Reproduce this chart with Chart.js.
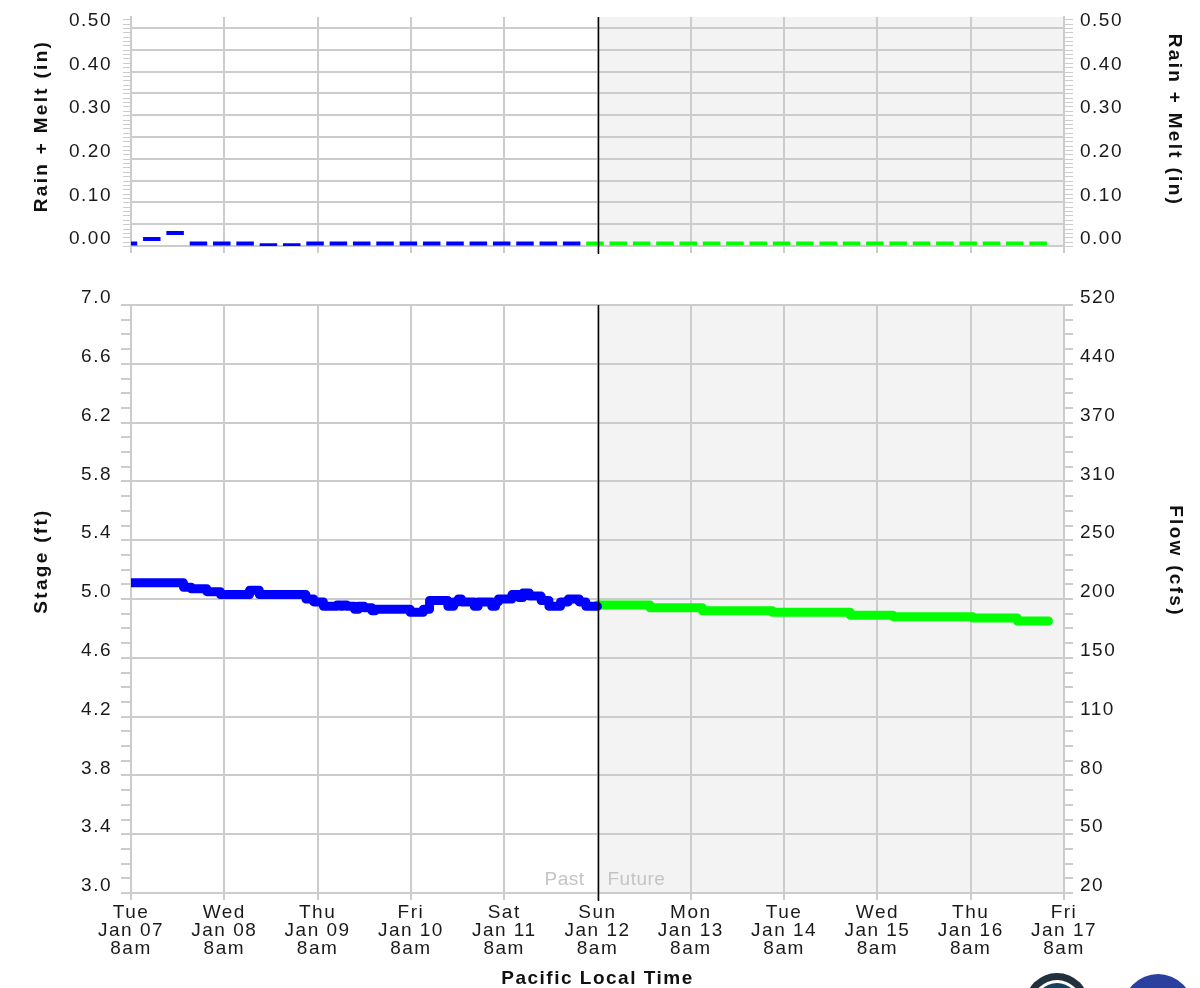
<!DOCTYPE html>
<html>
<head>
<meta charset="utf-8">
<title>Stage / Flow hydrograph</title>
<script src="https://cdn.jsdelivr.net/npm/chart.js@4.4.1/dist/chart.umd.min.js"></script>
<style>
  body { margin: 0; background: #fff; }
  #wrap { position: relative; width: 1200px; height: 988px; overflow: hidden; background: #fff; }
  #wrap canvas { position: absolute; left: 0; }
  #rainChart { top: 0; }
  #stageChart { top: 262px; }
</style>
</head>
<body>
<div id="wrap">
  <canvas id="rainChart" width="1200" height="262"></canvas>
  <canvas id="stageChart" width="1200" height="726"></canvas>
</div>
<script>
// hours are counted from Tue Jan 07 8am (Pacific)
const dayNames = ['Tue', 'Wed', 'Thu', 'Fri', 'Sat', 'Sun', 'Mon', 'Tue', 'Wed', 'Thu', 'Fri'];
const dayDates = ['Jan 07', 'Jan 08', 'Jan 09', 'Jan 10', 'Jan 11', 'Jan 12', 'Jan 13', 'Jan 14', 'Jan 15', 'Jan 16', 'Jan 17'];
const dayTime = '8am';
const nowHour = 120;

// 6-hour rain + melt (in); first block starts 4am Jan 07, forecast blocks start 4am Jan 12
const rainObsStart = -4;
const rainObs = [0.006, 0.016, 0.030, 0.006, 0.006, 0.006, 0.002, 0.002, 0.006, 0.006,
                 0.006, 0.006, 0.006, 0.006, 0.006, 0.006, 0.006, 0.006, 0.006, 0.006];
const rainFcstStart = 116;
const rainFcst = [0.006, 0.006, 0.006, 0.006, 0.006, 0.006, 0.006, 0.006, 0.006, 0.006,
                  0.006, 0.006, 0.006, 0.006, 0.006, 0.006, 0.006, 0.006, 0.006, 0.006];

// observed stage (ft), value holds from that hour on
const obsHours = [0, 13.5, 15.5, 19.5, 23, 30.5, 33, 45, 47, 49.5, 53, 54, 54.5, 55.5, 57.5,
                  58.5, 60, 62, 62.8, 71.8, 75.2, 76.8, 81.5, 83, 84.2, 85, 88.3, 89.3, 92.8, 93.8,
                  94.5, 98, 99.8, 100.8, 102.5, 105.5, 107.5, 110.5, 112.5, 115.3, 117, 120];
const obsStage = [5.11, 5.08, 5.07, 5.05, 5.03, 5.06, 5.03, 5.00, 4.98, 4.95, 4.96, 4.95, 4.96, 4.95, 4.93,
                  4.95, 4.94, 4.92, 4.93, 4.91, 4.93, 4.99, 4.95, 4.98, 5.00, 4.98, 4.95, 4.98, 4.95, 4.98,
                  5.00, 5.03, 5.01, 5.04, 5.02, 4.99, 4.95, 4.98, 5.00, 4.98, 4.95, 4.95];

// forecast stage (ft)
const fcstHours = [120, 133.5, 147, 165, 185, 196, 216.5, 228, 236];
const fcstStage = [4.96, 4.94, 4.92, 4.91, 4.89, 4.88, 4.87, 4.85, 4.85];

// axis ticks
const rainTicks = [0.00, 0.05, 0.10, 0.15, 0.20, 0.25, 0.30, 0.35, 0.40, 0.45, 0.50];
const stageTicks = [3.0, 3.4, 3.8, 4.2, 4.6, 5.0, 5.4, 5.8, 6.2, 6.6, 7.0];
const flowLabels = ['20', '50', '80', '110', '150', '200', '250', '310', '370', '440', '520'];

const gridColor = '#cccccc';
const pastColor = '#0000ff';
const futureColor = '#00ff00';

Chart.defaults.font.family = '"Liberation Sans", Arial, Helvetica, sans-serif';
Chart.defaults.font.size = 19;
Chart.defaults.color = '#1a1a1a';

// turn 6-hour blocks into short flat dashes
function rainDashes(start, values){
  const pts = [];
  values.forEach((v, i) => {
    const s = start + i * 6;
    pts.push({x: Math.max(0, s + 1.1), y: v});
    pts.push({x: s + 5.6, y: v});
    pts.push({x: s + 5.6, y: null});
  });
  return pts;
}

function pairs(hours, vals){
  return hours.map((h, i) => ({x: h, y: vals[i]}));
}

function setTicks(list){
  return scale => { scale.ticks = list.map(v => ({value: v})); };
}

// fixed axis width, and no extra label padding pushed into the layout
function fixWidth(w){
  return scale => {
    scale.width = w;
    scale.paddingTop = 0;
    scale.paddingBottom = 0;
  };
}

// shading, now line, minor ticks, side titles, etc.
const panelDecor = {
  id: 'panelDecor',
  beforeDraw(chart){
    const {ctx, chartArea: a, scales: {x}} = chart;
    ctx.letterSpacing = '1.5px';
    const nx = x.getPixelForValue(nowHour);
    ctx.save();
    ctx.fillStyle = '#f3f3f3';
    ctx.fillRect(nx, a.top, a.right - nx, a.bottom - a.top);
    ctx.restore();
  },
  afterDatasetsDraw(chart){
    const {ctx, chartArea: a, scales: {x}} = chart;
    const nx = Math.round(x.getPixelForValue(nowHour)) + 0.5;
    ctx.save();
    ctx.strokeStyle = '#000';
    ctx.lineWidth = 1.5;
    ctx.beginPath();
    ctx.moveTo(nx, a.top);
    ctx.lineTo(nx, a.bottom + 8);
    ctx.stroke();
    ctx.restore();
  },
  afterDraw(chart, args, opts){
    const {ctx, chartArea: a, scales} = chart;
    ctx.save();
    (opts.minor || []).forEach(m => {
      const sc = scales[m.axis];
      const n = Math.round((m.to - m.from) / m.step);
      ctx.strokeStyle = gridColor;
      ctx.lineWidth = m.width;
      ctx.beginPath();
      for(let i = 0; i <= n; i++){
        let py = Math.round(sc.getPixelForValue(m.from + i * m.step));
        if(m.width % 2 === 1) py += 0.5;
        const ex = m.side === 'left' ? a.left : a.right;
        const sx = m.side === 'left' ? ex - m.len : ex + m.len;
        ctx.moveTo(sx, py);
        ctx.lineTo(ex, py);
      }
      ctx.stroke();
    });

    ctx.fillStyle = '#111';
    ctx.font = 'bold 19px "Liberation Sans", Arial, sans-serif';
    ctx.letterSpacing = '2.3px';
    ctx.textAlign = 'center';
    ctx.textBaseline = 'middle';
    (opts.titles || []).forEach(t => {
      ctx.save();
      ctx.translate(t.x, t.y);
      ctx.rotate(t.rot);
      ctx.fillText(t.text, 0, 0);
      ctx.restore();
    });

    if(opts.pastFuture){
      const nx = scales.x.getPixelForValue(nowHour);
      ctx.font = '19px "Liberation Sans", Arial, sans-serif';
      ctx.letterSpacing = '0.5px';
      ctx.fillStyle = '#c4c4c4';
      ctx.textAlign = 'right';
      ctx.fillText('Past', nx - 13, a.bottom - 13);
      ctx.textAlign = 'left';
      ctx.fillText('Future', nx + 10, a.bottom - 13);
    }

    if(opts.logos){
      // agency seals at the bottom edge
      ctx.fillStyle = '#20303c';
      ctx.beginPath(); ctx.arc(1057, 743, 32, 0, Math.PI * 2); ctx.fill();
      ctx.fillStyle = '#ffffff';
      ctx.beginPath(); ctx.arc(1057, 743, 25, 0, Math.PI * 2); ctx.fill();
      ctx.fillStyle = '#15405e';
      ctx.beginPath(); ctx.arc(1057, 743, 22, 0, Math.PI * 2); ctx.fill();
      ctx.fillStyle = '#2b3f9e';
      ctx.beginPath(); ctx.arc(1158, 747, 35, 0, Math.PI * 2); ctx.fill();
    }
    ctx.restore();
  }
};

const xBase = {
  type: 'linear',
  min: 0,
  max: 240,
  grid: { color: gridColor, lineWidth: 2, tickLength: 7, tickColor: gridColor },
  border: { color: gridColor, width: 2 }
};

// ---- top panel: rain + melt ----
new Chart(document.getElementById('rainChart'), {
  type: 'line',
  data: {
    datasets: [
      { data: rainDashes(rainObsStart, rainObs), borderColor: pastColor, borderWidth: 4,
        borderCapStyle: 'butt', pointRadius: 0 },
      { data: rainDashes(rainFcstStart, rainFcst), borderColor: futureColor, borderWidth: 4,
        borderCapStyle: 'butt', pointRadius: 0 }
    ]
  },
  options: {
    responsive: false,
    animation: false,
    events: [],
    devicePixelRatio: 1,
    layout: { padding: { top: 17, left: 0, right: 0, bottom: 0 } },
    plugins: {
      legend: { display: false },
      tooltip: { enabled: false },
      panelDecor: {
        minor: [
          { axis: 'y', side: 'left', from: 0, to: 0.52, step: 0.01, len: 8, width: 1 },
          { axis: 'yR', side: 'right', from: 0, to: 0.52, step: 0.01, len: 9, width: 1 }
        ],
        titles: [
          { text: 'Rain + Melt (in)', x: 42, y: 126, rot: -Math.PI / 2 },
          { text: 'Rain + Melt (in)', x: 1174, y: 120, rot: Math.PI / 2 }
        ]
      }
    },
    scales: {
      x: Object.assign({}, xBase, {
        afterFit: s => { s.height = 16; s.paddingLeft = 0; s.paddingRight = 0; },
        ticks: { display: false, stepSize: 24 }
      }),
      y: {
        position: 'left',
        min: 0,
        max: 0.525,
        afterFit: fixWidth(131),
        afterBuildTicks: setTicks(rainTicks),
        ticks: {
          autoSkip: false, padding: 19, labelOffset: -7,
          callback: v => Math.round(v * 100) % 10 === 0 ? v.toFixed(2) : ''
        },
        grid: { color: gridColor, lineWidth: 2, drawTicks: false },
        border: { color: gridColor, width: 2 }
      },
      yR: {
        position: 'right',
        min: 0,
        max: 0.525,
        afterFit: fixWidth(136),
        afterBuildTicks: setTicks(rainTicks),
        ticks: {
          autoSkip: false, padding: 16, labelOffset: -7,
          callback: v => Math.round(v * 100) % 10 === 0 ? v.toFixed(2) : ''
        },
        grid: { drawOnChartArea: false, drawTicks: false },
        border: { color: gridColor, width: 2 }
      }
    }
  },
  plugins: [panelDecor]
});

// ---- bottom panel: stage / flow ----
new Chart(document.getElementById('stageChart'), {
  type: 'line',
  data: {
    datasets: [
      { data: pairs(obsHours, obsStage), borderColor: pastColor, borderWidth: 9, stepped: true,
        borderCapStyle: 'round', borderJoinStyle: 'round', pointRadius: 0 },
      { data: pairs(fcstHours, fcstStage), borderColor: futureColor, borderWidth: 9, stepped: true,
        borderCapStyle: 'round', borderJoinStyle: 'round', pointRadius: 0 }
    ]
  },
  options: {
    responsive: false,
    animation: false,
    events: [],
    devicePixelRatio: 1,
    layout: { padding: { top: 43, left: 0, right: 0, bottom: 0 } },
    plugins: {
      legend: { display: false },
      tooltip: { enabled: false },
      panelDecor: {
        minor: [
          { axis: 'y', side: 'left', from: 3.0, to: 7.0, step: 0.1, len: 10, width: 2 },
          { axis: 'yR', side: 'right', from: 3.0, to: 7.0, step: 0.1, len: 9, width: 2 }
        ],
        titles: [
          { text: 'Stage (ft)', x: 42, y: 299, rot: -Math.PI / 2 },
          { text: 'Flow (cfs)', x: 1175, y: 299, rot: Math.PI / 2 }
        ],
        pastFuture: true,
        logos: true
      }
    },
    scales: {
      x: Object.assign({}, xBase, {
        afterFit: s => { s.height = 95; },
        ticks: {
          stepSize: 24, autoSkip: false, maxRotation: 0, minRotation: 0, padding: 4,
          font: { size: 19, lineHeight: '18px' },
          callback: v => {
            const i = Math.round(v / 24);
            return [dayNames[i], dayDates[i], dayTime];
          }
        },
        title: {
          display: true, text: 'Pacific Local Time', color: '#111',
          font: { size: 19, weight: 'bold', lineHeight: '18px' },
          padding: { top: 0, bottom: 0 }
        }
      }),
      y: {
        position: 'left',
        min: 3.0,
        max: 7.0,
        afterFit: fixWidth(131),
        afterBuildTicks: setTicks(stageTicks),
        ticks: { autoSkip: false, padding: 19, labelOffset: -7, callback: v => v.toFixed(1) },
        grid: { color: gridColor, lineWidth: 2, drawTicks: false },
        border: { color: gridColor, width: 2 }
      },
      yR: {
        position: 'right',
        min: 3.0,
        max: 7.0,
        afterFit: fixWidth(136),
        afterBuildTicks: setTicks(stageTicks),
        ticks: { autoSkip: false, padding: 16, labelOffset: -7, callback: (v, i) => flowLabels[i] },
        grid: { drawOnChartArea: false, drawTicks: false },
        border: { color: gridColor, width: 2 }
      }
    }
  },
  plugins: [panelDecor]
});
</script>
</body>
</html>
